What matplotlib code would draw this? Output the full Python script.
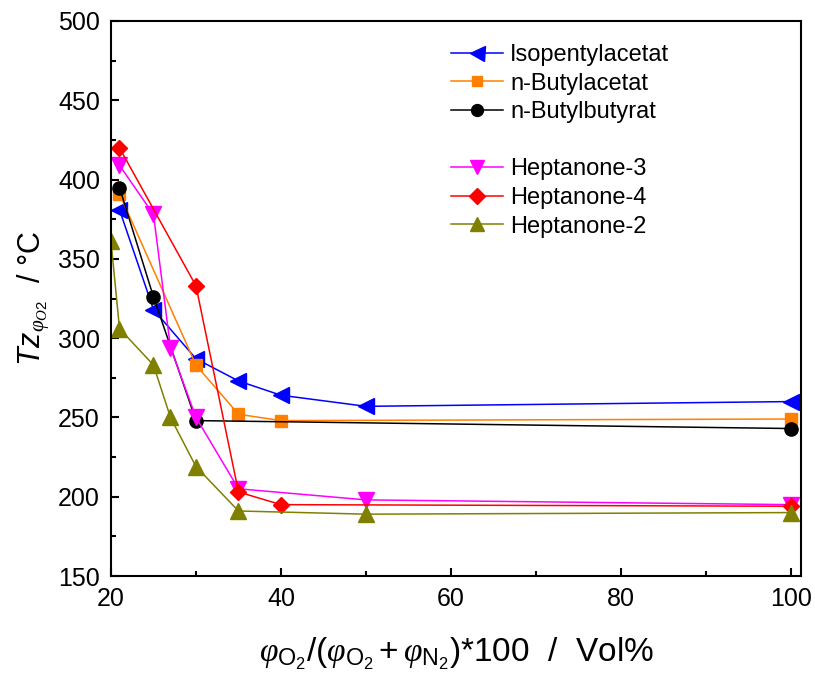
import matplotlib.pyplot as plt
from matplotlib.lines import Line2D
from matplotlib.ticker import MultipleLocator

plt.rcParams['font.family'] = ['Liberation Sans', 'DejaVu Sans']
plt.rcParams['mathtext.fontset'] = 'custom'
plt.rcParams['mathtext.rm'] = 'Liberation Sans'
plt.rcParams['mathtext.it'] = 'Liberation Serif:italic'
plt.rcParams['mathtext.sf'] = 'Liberation Sans:italic'

# data
iso_x = [21, 25, 30, 35, 40, 50, 100]
iso_y = [381, 318, 287, 273, 264, 257, 260]
bac_x = [21, 30, 35, 40, 100]
bac_y = [391, 283, 252, 248, 249]
bbu_x = [21, 25, 30, 100]
bbu_y = [395, 326, 248, 243]
h3_x = [21, 25, 27, 30, 35, 50, 100]
h3_y = [409, 378, 294, 250, 205, 198, 195]
h4_x = [21, 30, 35, 40, 100]
h4_y = [420, 333, 203, 195, 194]
h2_x = [20, 21, 25, 27, 30, 35, 50, 100]
h2_y = [361, 306, 283, 250, 219, 191, 189, 190]

fig = plt.figure(figsize=(8.15, 6.84), dpi=100)
ax = fig.add_axes([111/815, 1-576/684, 690/815, 555/684])

lw = 1.1
ax.plot(iso_x, iso_y, '-<', color='#0000FF', lw=lw, ms=12, label='Isopentylacetat')
ax.plot(bac_x, bac_y, '-s', color='#FF8000', lw=lw, ms=8, label='n-Butylacetat')
ax.plot(bbu_x, bbu_y, '-o', color='black', lw=lw, ms=9.5, label='n-Butylbutyrat')
ax.plot(h3_x, h3_y, '-v', color='#FF00FF', lw=lw, ms=11, label='Heptanone-3')
ax.plot(h4_x, h4_y, '-D', color='#FF0000', lw=lw, ms=8.5, label='Heptanone-4')
ax.plot(h2_x, h2_y, '-^', color='#808000', lw=lw, ms=11, label='Heptanone-2')

ax.set_xlim(20, 101.2)
ax.set_ylim(150, 500)
ax.xaxis.set_major_locator(MultipleLocator(20))
ax.xaxis.set_minor_locator(MultipleLocator(10))
ax.yaxis.set_major_locator(MultipleLocator(50))
ax.yaxis.set_minor_locator(MultipleLocator(25))
ax.tick_params(which='both', direction='in', labelsize=18, width=1.5)
ax.tick_params(which='major', length=6, pad=8)
ax.tick_params(which='minor', length=3.5)
for s in ax.spines.values():
    s.set_linewidth(1.5)

ax.set_xlabel(r'$\varphi_{\mathrm{O}_2}/(\varphi_{\mathrm{O}_2}+\varphi_{\mathrm{N}_2})$*100  /  Vol%',
              fontsize=24, labelpad=18)
ax.set_ylabel(r'$\mathsf{Tz}_{\varphi_{O2}}$  / °C', fontsize=22, labelpad=4)

handles, labels = ax.get_legend_handles_labels()
blank = Line2D([], [], linestyle='none')
handles = handles[:3] + [blank] + handles[3:]
labels = labels[:3] + [' '] + labels[3:]
ax.legend(handles, labels, loc='upper left', bbox_to_anchor=(451/815, 1-44/684),
          bbox_transform=fig.transFigure, frameon=False, fontsize=17,
          numpoints=1, handlelength=2.2, handletextpad=0.3, labelspacing=0.28,
          borderpad=0, borderaxespad=0, markerscale=0.9)

fig.savefig('out.png', dpi=100)
